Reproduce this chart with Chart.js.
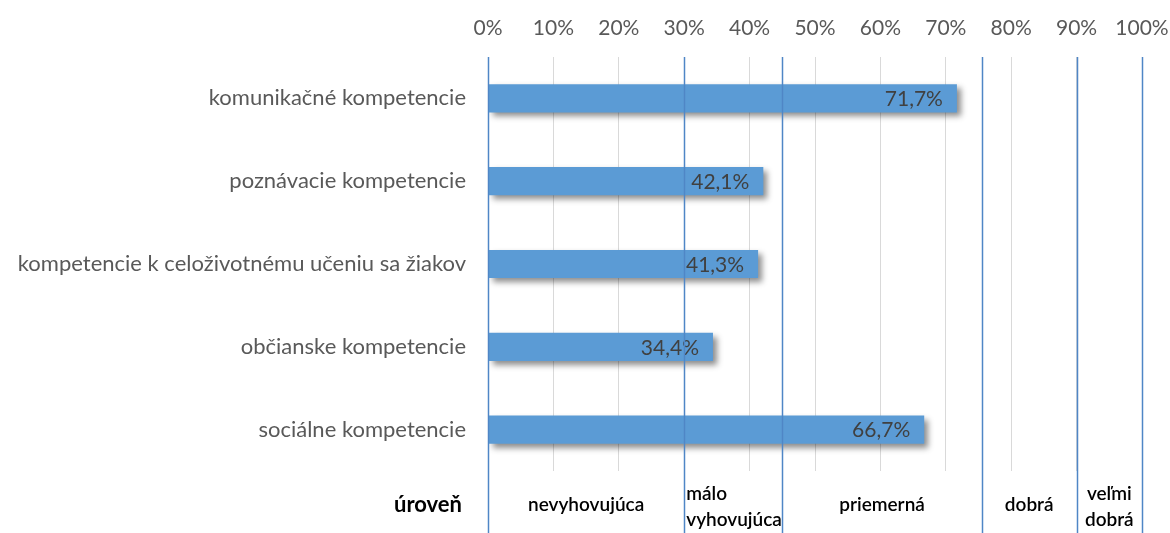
<!DOCTYPE html>
<html>
<head>
<meta charset="utf-8">
<script src="https://cdn.jsdelivr.net/npm/chart.js@4"></script>
<style>
  html, body { margin: 0; padding: 0; background: #fff; }
  #wrap { width: 1170px; height: 533px; }
</style>
</head>
<body>
<div id="wrap"><canvas id="competenceChart"></canvas></div>
<script>
// categories and values (percent)
var categories = [
    'komunikačné kompetencie',
    'poznávacie kompetencie',
    'kompetencie k celoživotnému učeniu sa žiakov',
    'občianske kompetencie',
    'sociálne kompetencie'
];
var values = [71.7, 42.1, 41.3, 34.4, 66.7];

// level bands (boundaries in percent) and their names
var levelBounds = [0, 30, 45, 75.5, 90, 100];
var levelNames = [['nevyhovujúca'], ['málo', 'vyhovujúca'], ['priemerná'], ['dobrá'], ['veľmi', 'dobrá']];
var levelTitle = 'úroveň';

var FONT = 'Lato, "Open Sans", sans-serif';

function pct(v) {
    return v.toFixed(1).replace('.', ',') + '%';
}

// soft drop shadow under bars
var barShadow = {
    id: 'barShadow',
    beforeDatasetDraw: function(chart) {
        var c = chart.ctx;
        c.save();
        c.shadowColor = 'rgba(0,0,0,0.45)';
        c.shadowBlur = 6;
        c.shadowOffsetX = 4;
        c.shadowOffsetY = 4;
    },
    afterDatasetDraw: function(chart) {
        chart.ctx.restore();
    }
};

// level lines, bottom captions and value labels
var levelPlugin = {
    id: 'levels',
    afterDatasetsDraw: function(chart) {
        var c = chart.ctx;
        var x = chart.scales.x;
        var area = chart.chartArea;

        // value labels inside bar ends
        var meta = chart.getDatasetMeta(0);
        c.save();
        c.font = '21px ' + FONT;
        c.fillStyle = '#404040';
        c.textAlign = 'right';
        c.textBaseline = 'middle';
        meta.data.forEach(function(bar, i) {
            c.fillText(pct(values[i]), bar.x - 14, bar.y + 1);
        });
        c.restore();

        // blue boundary lines
        c.save();
        c.strokeStyle = '#4f86c6';
        c.lineWidth = 1.5;
        levelBounds.forEach(function(b) {
            var px = Math.round(x.getPixelForValue(b)) + 0.5;
            c.beginPath();
            c.moveTo(px, area.top);
            c.lineTo(px, chart.height);
            c.stroke();
        });
        c.restore();

        // captions
        c.save();
        c.fillStyle = '#000';
        c.textBaseline = 'middle';
        c.font = 'bold 22px ' + FONT;
        c.textAlign = 'right';
        c.fillText(levelTitle, area.left - 26, 505);
        c.font = '600 19px ' + FONT;
        for (var i = 0; i < levelNames.length; i++) {
            var x0 = x.getPixelForValue(levelBounds[i]);
            var x1 = x.getPixelForValue(levelBounds[i + 1]);
            var lines = levelNames[i];
            var wide = lines.length === 2 && levelBounds[i + 1] - levelBounds[i] > 12;
            c.textAlign = wide ? 'left' : 'center';
            var tx = wide ? x0 + 2 : (x0 + x1) / 2;
            if (lines.length === 1) {
                c.fillText(lines[0], tx, 505);
            } else {
                c.fillText(lines[0], tx, 494);
                c.fillText(lines[1], tx, 520);
            }
        }
        c.restore();
    }
};

var ctx = document.getElementById('competenceChart').getContext('2d');
var chart = new Chart(ctx, {
    type: 'bar',
    data: {
        labels: categories,
        datasets: [{
            data: values,
            backgroundColor: '#5b9bd5',
            borderWidth: 0,
            categoryPercentage: 1,
            barPercentage: 0.34
        }]
    },
    options: {
        indexAxis: 'y',
        responsive: true,
        maintainAspectRatio: false,
        animation: false,
        layout: { padding: { top: 0, left: 0, right: 28, bottom: 62 } },
        plugins: {
            legend: { display: false },
            tooltip: { enabled: false }
        },
        scales: {
            x: {
                position: 'top',
                min: 0,
                max: 100,
                ticks: {
                    stepSize: 10,
                    padding: 16,
                    color: '#595959',
                    font: { family: FONT, size: 21 },
                    callback: function(v) { return v + '%'; }
                },
                grid: { color: '#d9d9d9', lineWidth: 1, drawTicks: false },
                border: { display: false },
                afterFit: function(s) {
                    s.height = 57;
                    s.paddingLeft = 0;
                    s.paddingRight = 0;
                }
            },
            y: {
                ticks: {
                    padding: 22,
                    color: '#595959',
                    font: { family: FONT, size: 22 }
                },
                grid: { display: false, drawTicks: false },
                border: { display: false },
                afterFit: function(s) { s.width = 488; }
            }
        }
    },
    plugins: [barShadow, levelPlugin]
});
</script>
</body>
</html>
